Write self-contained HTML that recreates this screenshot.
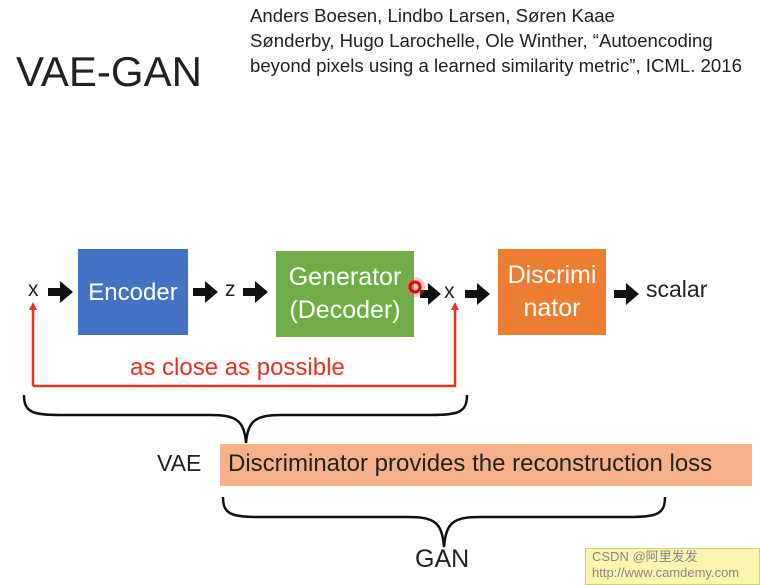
<!DOCTYPE html>
<html><head><meta charset="utf-8"><style>
body{margin:0;width:760px;height:585px;background:#fff;position:relative;overflow:hidden;font-family:"Liberation Sans","Noto Sans CJK SC",sans-serif}
.a{position:absolute}
.box{position:absolute;color:#fff;font-size:24px;display:flex;align-items:center;justify-content:center;text-align:center;line-height:33px}
</style></head><body>
<div class="a" style="left:16px;top:48px;font-size:42px;color:#222">VAE-GAN</div>
<div class="a" style="left:250px;top:3px;font-size:18.6px;line-height:25px;color:#222">Anders Boesen, Lindbo Larsen, Søren Kaae<br>Sønderby, Hugo Larochelle, Ole Winther, “Autoencoding<br>beyond pixels using a learned similarity metric”, ICML. 2016</div>
<div class="box" style="left:78px;top:249px;width:110px;height:86px;background:#4472c4">Encoder</div>
<div class="box" style="left:276px;top:251px;width:138px;height:86px;background:#70ad47;font-size:25px">Generator<br>(Decoder)</div>
<div class="box" style="left:498px;top:249px;width:108px;height:86px;background:#ed7d31;font-size:25px">Discrimi<br>nator</div>
<div class="a" style="left:220px;top:444px;width:532px;height:42px;background:#f8b08c"></div>
<div class="a" style="left:228px;top:450px;font-size:24px;color:#222;white-space:nowrap">Discriminator provides the reconstruction loss</div>
<div class="a" style="left:157px;top:450px;font-size:23px;color:#222">VAE</div>
<div class="a" style="left:415px;top:545px;font-size:25px;color:#222">GAN</div>
<div class="a" style="left:28px;top:278px;font-size:21px;color:#222">x</div>
<div class="a" style="left:225px;top:278px;font-size:21px;color:#222">z</div>
<div class="a" style="left:444px;top:280px;font-size:21px;color:#222">x</div>
<div class="a" style="left:646px;top:276px;font-size:23px;color:#222">scalar</div>
<div class="a" style="left:130px;top:354px;font-size:24px;color:#e8321e;white-space:nowrap">as close as possible</div>
<div class="a" style="left:585px;top:548px;width:175px;height:37px;background:#fbf5b0;border:1px solid #d8cf70;font-size:13px;color:#888;line-height:16px;padding-left:6px;box-sizing:border-box">CSDN @阿里发发<br>http://www.camdemy.com</div>
<svg class="a" style="left:0;top:0" width="760" height="585">
<g fill="#111">
<path d="M48,288h12v-7l13,11l-13,11v-7h-12z"/>
<path d="M193,288h12v-7l13,11l-13,11v-7h-12z"/>
<path d="M243,288h12v-7l13,11l-13,11v-7h-12z"/>
<path d="M420,290h8v-7l13,11l-13,11v-7h-8z"/>
<path d="M465,290h12v-7l13,11l-13,11v-7h-12z"/>
<path d="M614,290h12v-7l13,11l-13,11v-7h-12z"/>
</g>
<circle cx="415" cy="287" r="10" fill="#f66" opacity="0.35"/>
<circle cx="415" cy="287" r="5" fill="none" stroke="#e00" stroke-width="3"/>
<path d="M33,386V308M33,386H455V308" fill="none" stroke="#e8321e" stroke-width="2.5"/>
<path d="M29,310L33,302L37,310z M451,310L455,302L459,310z" fill="#e8321e"/>
<path d="M24,395C24,412 32,415 60,415H210C236,415 244,420 246,443M467,395C467,412 459,415 431,415H282C256,415 248,420 246,443" fill="none" stroke="#111" stroke-width="2.5"/>
<path d="M223,497C223,514 231,517 259,517H408C434,517 442,522 444,547M665,497C665,514 657,517 629,517H480C454,517 446,522 444,547" fill="none" stroke="#111" stroke-width="2.5"/>
</svg>
</body></html>
